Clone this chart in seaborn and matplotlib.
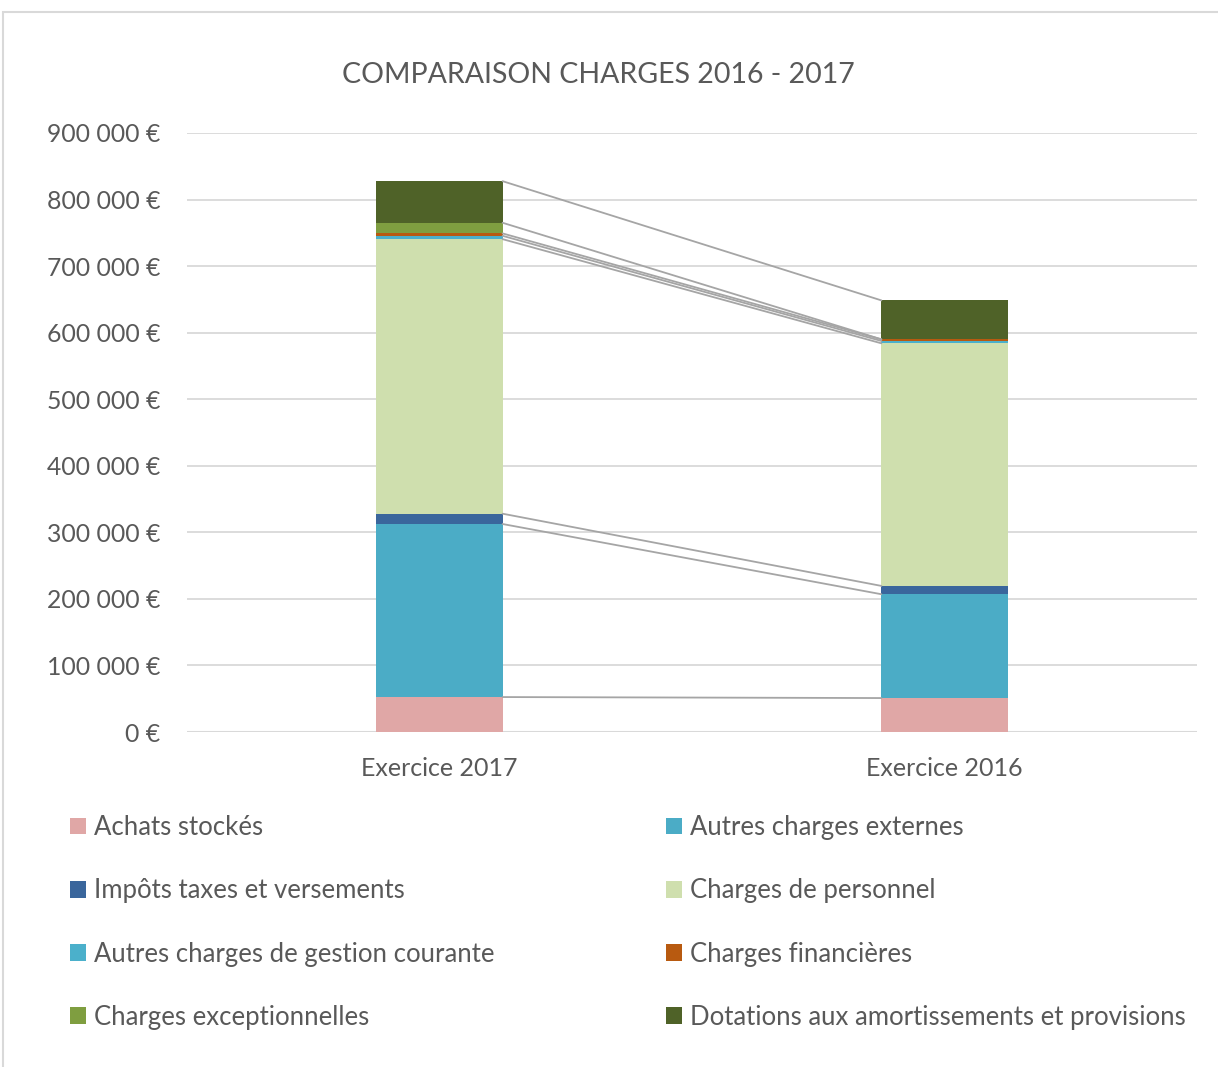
import matplotlib
matplotlib.use("Agg")
import matplotlib.pyplot as plt
import numpy as np
import pandas as pd
import seaborn as sns
from matplotlib.patches import Patch, Rectangle
from matplotlib.ticker import FuncFormatter

# --- données ---
exercices = ["Exercice 2017", "Exercice 2016"]
postes = [
    "Achats stockés",
    "Autres charges externes",
    "Impôts taxes et versements",
    "Charges de personnel",
    "Autres charges de gestion courante",
    "Charges financières",
    "Charges exceptionnelles",
    "Dotations aux amortissements et provisions",
]
montants_2017 = [52500, 260000, 15500, 412500, 5000, 3600, 16000, 62500]
montants_2016 = [51000, 156000, 12500, 364500, 3500, 2500, 0, 58500]
couleurs = ["#E0A7A6", "#4BACC6", "#3A669C", "#CFDFAE",
            "#4BB0CB", "#B85A10", "#7F9E40", "#4F6228"]

sns.set_theme(style="white")
plt.rcParams["font.family"] = ["Lato", "DejaVu Sans"]
TXT = "#595959"

fig = plt.figure(figsize=(12.18, 10.67), dpi=100)
ax = fig.add_axes([187 / 1218, 1 - 732 / 1067, 1010 / 1218, 599 / 1067])

df = pd.DataFrame({"2017": montants_2017, "2016": montants_2016}, index=postes)
cumul = df.cumsum()
base = cumul - df

largeur = 0.25
for i, poste in enumerate(postes):
    sns.barplot(
        x=exercices,
        y=[df.loc[poste, "2017"], df.loc[poste, "2016"]],
        bottom=[base.loc[poste, "2017"], base.loc[poste, "2016"]],
        color=couleurs[i],
        width=largeur,
        errorbar=None,
        saturation=1,
        linewidth=0,
        ax=ax,
    )

# lignes de liaison entre les deux barres
for poste in postes:
    if df.loc[poste, "2017"] == 0 and df.loc[poste, "2016"] == 0:
        continue
    ax.plot([largeur / 2, 1 - largeur / 2],
            [cumul.loc[poste, "2017"], cumul.loc[poste, "2016"]],
            color="#A5A5A5", lw=1.3, zorder=1)

ax.set_xlim(-0.5, 1.5)
ax.set_ylim(0, 900000)
ax.set_yticks(np.arange(0, 900001, 100000))
ax.yaxis.set_major_formatter(
    FuncFormatter(lambda v, p: f"{int(v):,} €".replace(",", " ")))
ax.grid(axis="y", color="#D9D9D9", lw=1.3, zorder=0)
ax.set_axisbelow(True)
for s in ax.spines.values():
    s.set_visible(False)
ax.axhline(0, color="#D9D9D9", lw=1.5, zorder=0)
ax.tick_params(axis="y", length=0, pad=19, labelsize=17.8, labelcolor=TXT)
ax.tick_params(axis="x", length=0, pad=18, labelsize=18, labelcolor=TXT)
ax.set_xlabel("")
ax.set_ylabel("")

fig.text(598 / 1218, 1 - 75 / 1067, "COMPARAISON CHARGES 2016 - 2017",
         ha="center", va="center", fontsize=20.5, color=TXT)

# légende en deux colonnes
for col, x0 in enumerate([70 / 1218, 666 / 1218]):
    handles = [Patch(facecolor=couleurs[k], edgecolor="none")
               for k in range(col, len(postes), 2)]
    labels = [postes[k] for k in range(col, len(postes), 2)]
    fig.legend(handles, labels, loc="upper left",
               bbox_to_anchor=(x0, 1 - 815 / 1067), frameon=False,
               fontsize=18.5, labelcolor=TXT, handlelength=0.62,
               handleheight=0.62, handletextpad=0.31, labelspacing=1.49,
               borderaxespad=0, borderpad=0)

fig.patches.append(Rectangle((3 / 1218, -0.1), 1.2, 1.1 - 12 / 1067,
                             transform=fig.transFigure, fill=False,
                             edgecolor="#D9D9D9", lw=1.5))

fig.savefig("out.png", dpi=100, facecolor="white")
